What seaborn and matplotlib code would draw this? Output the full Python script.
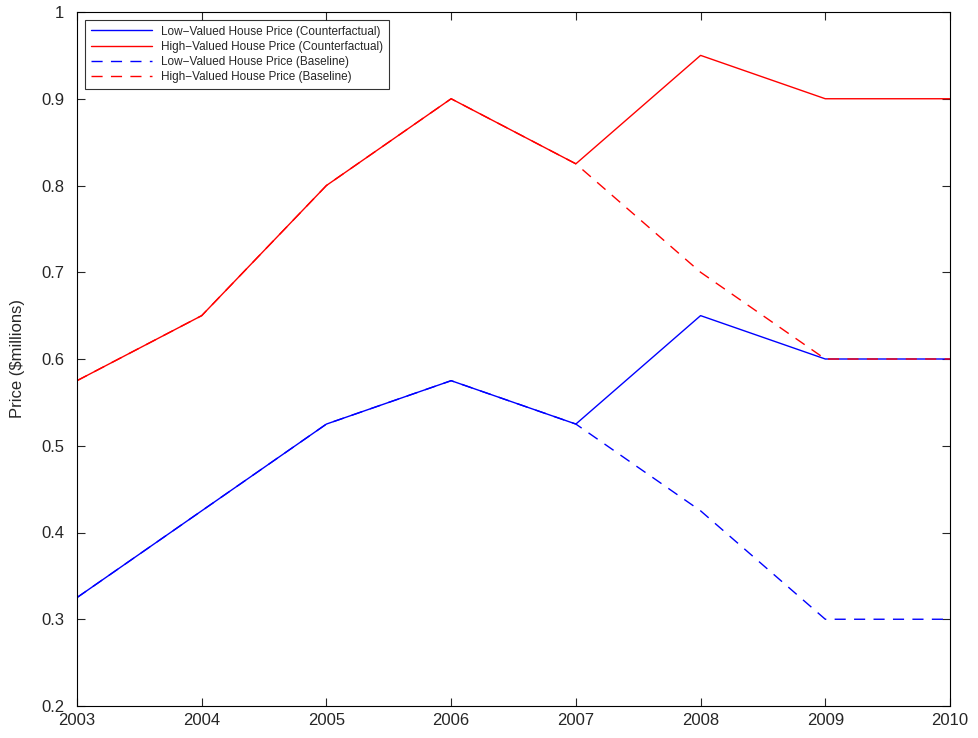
import pandas as pd
import matplotlib
matplotlib.use("Agg")
import matplotlib.pyplot as plt
import seaborn as sns

years = [2003, 2004, 2005, 2006, 2007, 2008, 2009, 2010]
low_counterfactual = [0.325, 0.425, 0.525, 0.575, 0.525, 0.65, 0.60, 0.60]
high_counterfactual = [0.575, 0.65, 0.80, 0.90, 0.825, 0.95, 0.90, 0.90]
low_baseline = [0.325, 0.425, 0.525, 0.575, 0.525, 0.425, 0.30, 0.30]
high_baseline = [0.575, 0.65, 0.80, 0.90, 0.825, 0.70, 0.60, 0.60]

series_names = [
    "Low\u2212Valued House Price (Counterfactual)",
    "High\u2212Valued House Price (Counterfactual)",
    "Low\u2212Valued House Price (Baseline)",
    "High\u2212Valued House Price (Baseline)",
]

sns.set_style("white")
plt.rcParams['font.family'] = ['Liberation Sans', 'DejaVu Sans']

frames = []
for name, vals in zip(series_names, [low_counterfactual, high_counterfactual, low_baseline, high_baseline]):
    frames.append(pd.DataFrame({"Year": years, "Price": vals, "Series": name}))
df = pd.concat(frames, ignore_index=True)

fig = plt.figure(figsize=(9.79, 7.38), dpi=100)
ax = fig.add_axes([77 / 979, 32 / 738, 873 / 979, 694 / 738])

palette = {series_names[0]: "#0000ff", series_names[1]: "#ff0000",
           series_names[2]: "#0000ff", series_names[3]: "#ff0000"}
dashes = {series_names[0]: "", series_names[1]: "",
          series_names[2]: (8, 6), series_names[3]: (8, 6)}

sns.lineplot(data=df, x="Year", y="Price", hue="Series", style="Series",
             hue_order=series_names, style_order=series_names,
             palette=palette, dashes=dashes, linewidth=1.0, ax=ax)

ax.set_xlim(2003, 2010)
ax.set_ylim(0.2, 1.0)
ax.set_xticks(years)
ax.set_yticks([0.2, 0.3, 0.4, 0.5, 0.6, 0.7, 0.8, 0.9, 1.0])
ax.set_yticklabels(["0.2", "0.3", "0.4", "0.5", "0.6", "0.7", "0.8", "0.9", "1"])
ax.set_xlabel("")
ax.set_ylabel("Price ($millions)", fontsize=12, labelpad=12)
ax.tick_params(direction="in", length=6, labelsize=12, top=True, right=True,
               bottom=True, left=True, width=0.8)
ax.tick_params(axis="y", pad=9)
ax.tick_params(axis="x", pad=5)
for s in ax.spines.values():
    s.set_color("black")
    s.set_linewidth(0.8)

leg = ax.legend(loc="upper left", fontsize=8.5, frameon=True, fancybox=False,
                edgecolor="black", borderaxespad=0.7, handlelength=5.2,
                labelspacing=0.28, borderpad=0.45)
leg.get_frame().set_linewidth(0.8)

fig.savefig("out.png", dpi=100)
